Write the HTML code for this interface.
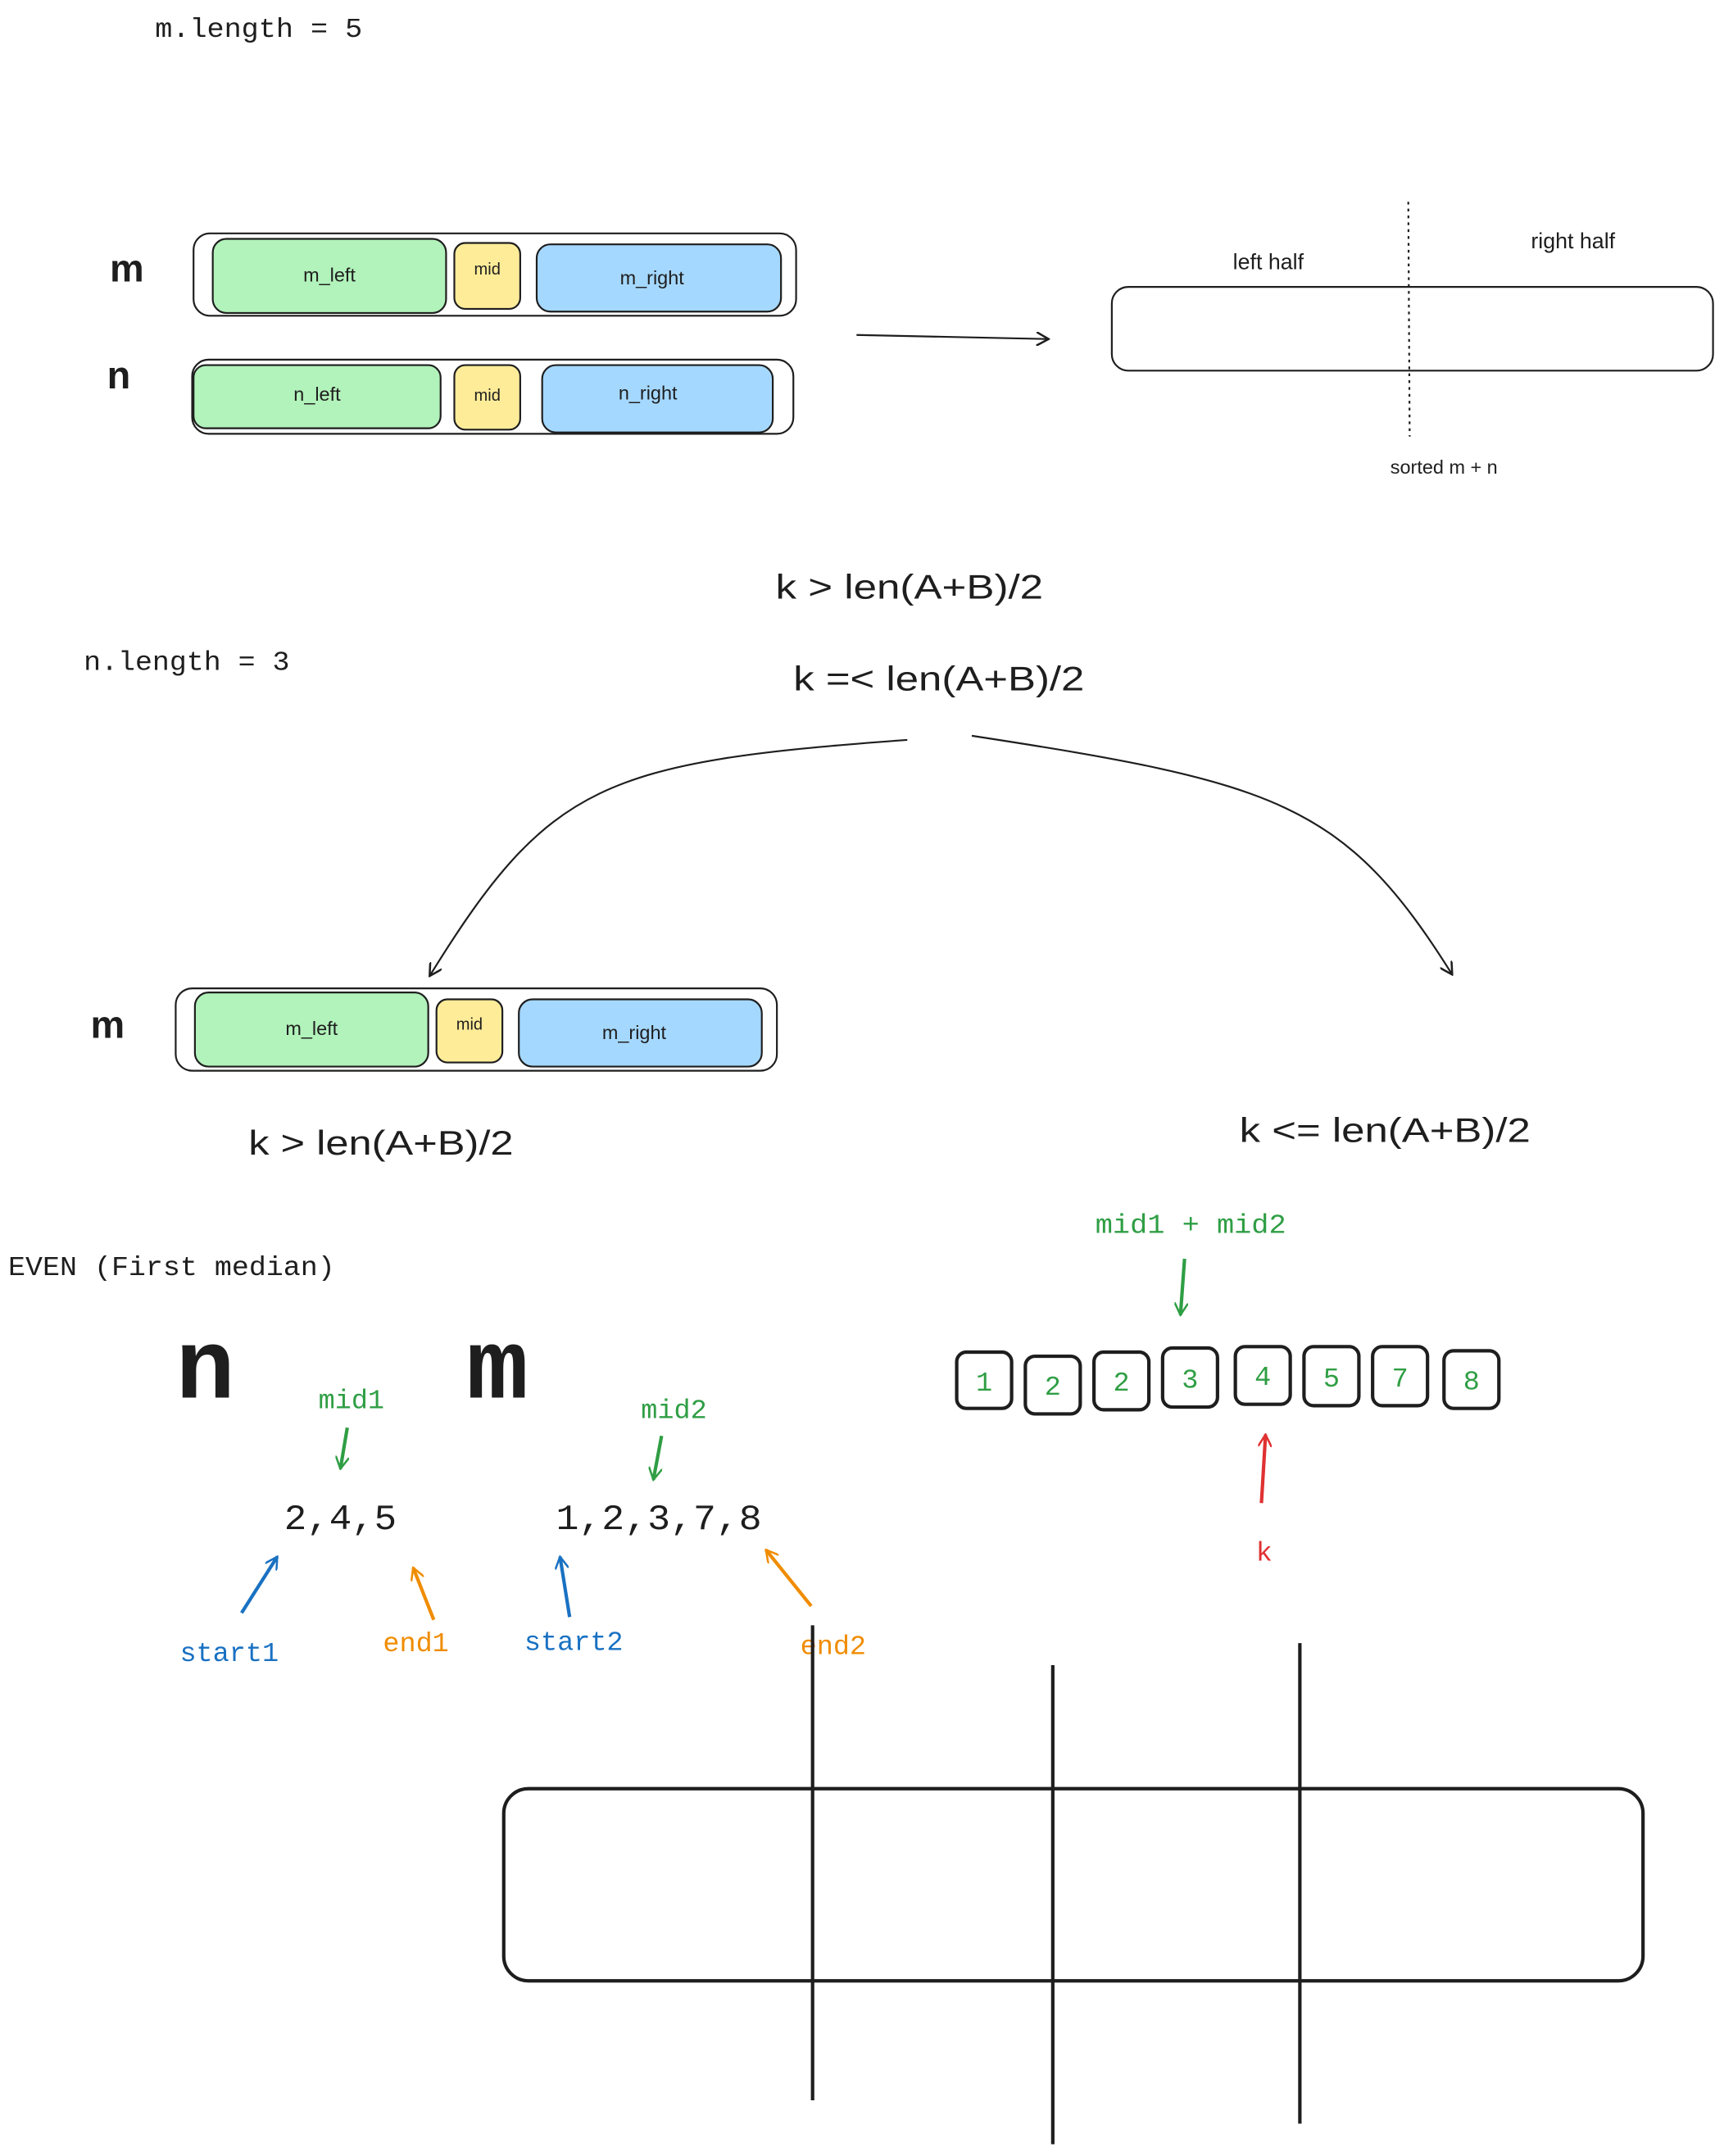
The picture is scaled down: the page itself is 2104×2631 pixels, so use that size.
<!DOCTYPE html>
<html><head><meta charset="utf-8"><style>
html,body{margin:0;padding:0;background:#fff;}
svg{display:block}
.mono{font-family:"Liberation Mono",monospace}
.hand{font-family:"Liberation Sans",sans-serif}
</style></head><body>
<svg width="2104" height="2631" viewBox="0 0 1256 1570.6" xmlns="http://www.w3.org/2000/svg">
<defs>
<marker id="a" markerWidth="10" markerHeight="10" refX="9" refY="5" orient="auto" markerUnits="userSpaceOnUse"><path d="M0,0 L9,5 L0,10" fill="none" stroke="context-stroke" stroke-width="1.5"/></marker>
</defs>
<g fill="none" stroke="#1e1e1e" stroke-width="1.3">
<rect x="141" y="170" width="439" height="60" rx="12"/>
<rect x="155" y="174" width="170" height="54" rx="10" fill="#b2f2bb"/>
<rect x="331" y="177" width="48" height="48" rx="8" fill="#ffec99"/>
<rect x="391" y="178" width="178" height="49" rx="10" fill="#a5d8ff"/>
<rect x="140" y="262" width="438" height="54" rx="12"/>
<rect x="141" y="266" width="180" height="46" rx="9" fill="#b2f2bb"/>
<rect x="331" y="266" width="48" height="47" rx="8" fill="#ffec99"/>
<rect x="395" y="266" width="168" height="49" rx="10" fill="#a5d8ff"/>
<path d="M624 244 L764 247" marker-end="url(#a)"/>
<rect x="810" y="209" width="438" height="61" rx="12"/>
<path d="M1026 147 L1027 318" stroke-dasharray="2 3"/>
<path d="M661 539 C 440 555 400 570 313 711" marker-end="url(#a)"/>
<path d="M708 536 C 930 570 980 585 1058 710" marker-end="url(#a)"/>
<rect x="128" y="720" width="438" height="60" rx="12"/>
<rect x="142" y="723" width="170" height="54" rx="10" fill="#b2f2bb"/>
<rect x="318" y="728" width="48" height="46" rx="8" fill="#ffec99"/>
<rect x="378" y="728" width="177" height="49" rx="10" fill="#a5d8ff"/>
</g>
<g class="hand" fill="#1e1e1e" font-size="14" text-anchor="middle">
<text x="240" y="205">m_left</text><text x="355" y="200" font-size="12">mid</text><text x="475" y="207">m_right</text>
<text x="231" y="292">n_left</text><text x="355" y="292" font-size="12">mid</text><text x="472" y="291">n_right</text>
<text x="227" y="754">m_left</text><text x="342" y="750" font-size="12">mid</text><text x="462" y="757">m_right</text>
<text x="924" y="196" font-size="16">left half</text><text x="1146" y="181" font-size="16">right half</text>
<text x="1052" y="345">sorted m + n</text>
</g>
<g class="hand" fill="#1e1e1e" font-weight="bold" font-size="28">
<text x="80" y="205">m</text><text x="78" y="283">n</text><text x="66" y="756">m</text>
</g>
<g class="hand" fill="#1e1e1e" font-size="25">
<text x="565" y="436" textLength="195" lengthAdjust="spacingAndGlyphs">k &gt; len(A+B)/2</text>
<text x="578" y="503" textLength="212" lengthAdjust="spacingAndGlyphs">k =&lt; len(A+B)/2</text>
<text x="181" y="841" textLength="193" lengthAdjust="spacingAndGlyphs">k &gt; len(A+B)/2</text>
<text x="903" y="832" textLength="212" lengthAdjust="spacingAndGlyphs">k &lt;= len(A+B)/2</text>
</g>
<g class="mono" fill="#1e1e1e" font-size="20">
<text x="113" y="27" textLength="151" lengthAdjust="spacingAndGlyphs">m.length = 5</text>
<text x="61" y="488" textLength="150" lengthAdjust="spacingAndGlyphs">n.length = 3</text>
<text x="6" y="929" textLength="238" lengthAdjust="spacingAndGlyphs">EVEN (First median)</text>
<text x="207" y="1114" font-size="26" textLength="82" lengthAdjust="spacingAndGlyphs">2,4,5</text>
<text x="405" y="1114" font-size="26" textLength="150" lengthAdjust="spacingAndGlyphs">1,2,3,7,8</text>
</g>
<g class="mono" fill="#1e1e1e" font-weight="bold" font-size="72">
<text x="128" y="1018">n</text><text x="340" y="1018" textLength="45" lengthAdjust="spacingAndGlyphs">m</text>
</g>
<g class="mono" font-size="20">
<text x="232" y="1026" fill="#2f9e44">mid1</text>
<text x="467" y="1033" fill="#2f9e44">mid2</text>
<text x="798" y="898" fill="#2f9e44" textLength="139" lengthAdjust="spacingAndGlyphs">mid1 + mid2</text>
<text x="131" y="1210" fill="#1971c2">start1</text>
<text x="382" y="1202" fill="#1971c2">start2</text>
<text x="279" y="1203" fill="#f08c00">end1</text>
<text x="583" y="1205" fill="#f08c00">end2</text>
<text x="915" y="1137" fill="#e03131">k</text>
</g>
<g fill="none" stroke-width="2.5">
<path d="M253 1040 L248 1070" stroke="#2f9e44" marker-end="url(#a)"/>
<path d="M482 1046 L476 1078" stroke="#2f9e44" marker-end="url(#a)"/>
<path d="M863 917 L860 958" stroke="#2f9e44" marker-end="url(#a)"/>
<path d="M176 1175 L202 1134" stroke="#1971c2" marker-end="url(#a)"/>
<path d="M415 1178 L408 1134" stroke="#1971c2" marker-end="url(#a)"/>
<path d="M316 1180 L301 1142" stroke="#f08c00" marker-end="url(#a)"/>
<path d="M591 1170 L558 1129" stroke="#f08c00" marker-end="url(#a)"/>
<path d="M919 1095 L922 1045" stroke="#e03131" marker-end="url(#a)"/>
</g>
<g fill="none" stroke="#1e1e1e" stroke-width="2.5">
<rect x="697" y="985" width="40" height="41" rx="7"/>
<rect x="747" y="988" width="40" height="42" rx="7"/>
<rect x="797" y="985" width="40" height="42" rx="7"/>
<rect x="847" y="982" width="40" height="43" rx="7"/>
<rect x="900" y="981" width="40" height="42" rx="7"/>
<rect x="950" y="981" width="40" height="43" rx="7"/>
<rect x="1000" y="981" width="40" height="43" rx="7"/>
<rect x="1052" y="984" width="40" height="42" rx="7"/>
<rect x="367" y="1303" width="830" height="140" rx="18"/>
<path d="M592 1184 L592 1530"/><path d="M767 1213 L767 1562"/><path d="M947 1197 L947 1547"/>
</g>
<g class="mono" fill="#2f9e44" font-size="20" text-anchor="middle">
<text x="717" y="1013">1</text><text x="767" y="1016">2</text><text x="817" y="1013">2</text><text x="867" y="1011">3</text>
<text x="920" y="1009">4</text><text x="970" y="1010">5</text><text x="1020" y="1010">7</text><text x="1072" y="1012">8</text>
</g>
</svg>
</body></html>
